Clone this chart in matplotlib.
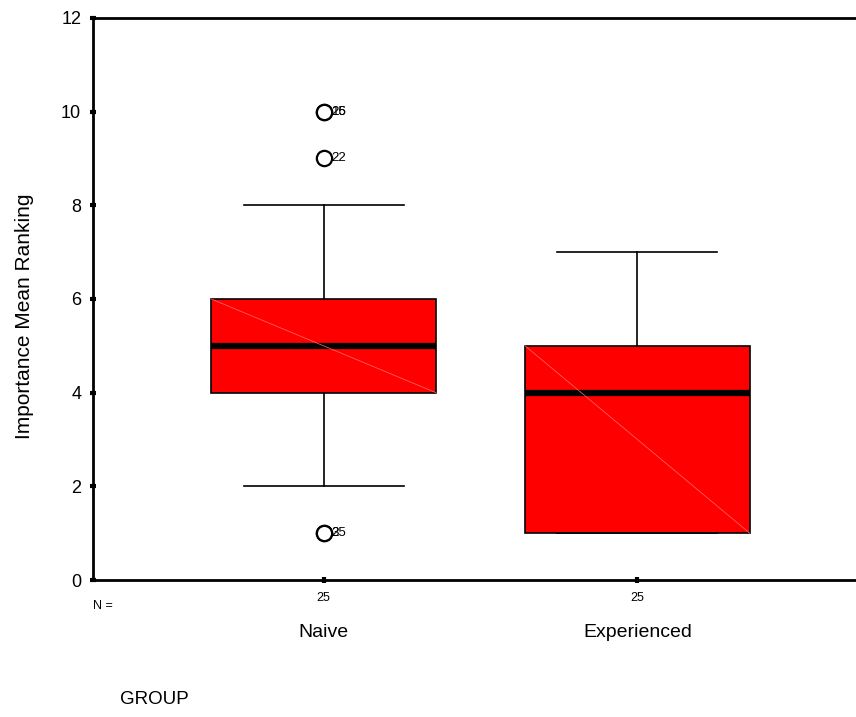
import matplotlib
matplotlib.use('Agg')
import matplotlib.pyplot as plt

groups = ['Naive', 'Experienced']
n_cases = [25, 25]
q1 = [4, 1]
med = [5, 4]
q3 = [6, 5]
whislo = [2, 1]
whishi = [8, 7]
outlier_vals = [[10, 10, 9, 1, 1], []]
outlier_ids = [['16', '25', '22', '25', '3'], []]

plt.rcParams['font.family'] = ['Liberation Sans', 'DejaVu Sans']

fig = plt.figure(figsize=(8.56, 7.17), dpi=100)
ax = fig.add_axes([0.1086, 0.191, 0.9, 0.784])

positions = [1, 2]
stats = []
for i, g in enumerate(groups):
    stats.append(dict(label=g, med=med[i], q1=q1[i], q3=q3[i],
                      whislo=whislo[i], whishi=whishi[i], fliers=outlier_vals[i]))

ax.bxp(stats, positions=positions, widths=0.716, patch_artist=True,
       showfliers=True,
       boxprops=dict(facecolor='#ff0000', edgecolor='black', linewidth=1.2),
       medianprops=dict(color='black', linewidth=4.5),
       whiskerprops=dict(color='black', linewidth=1.2),
       capprops=dict(color='black', linewidth=1.2),
       capwidths=0.51,
       flierprops=dict(marker='o', markersize=11, markerfacecolor='white',
                       markeredgecolor='black', markeredgewidth=1.6))

# faint diagonal across each box fill
for i, p in enumerate(positions):
    ax.plot([p - 0.358, p + 0.358], [q3[i], q1[i]], color='#ff7070',
            linewidth=0.5, zorder=2.5)

# case labels beside outliers (coincident cases print on top of each other)
for i, p in enumerate(positions):
    for v, lab in zip(outlier_vals[i], outlier_ids[i]):
        ax.text(p + 0.025, v, lab, fontsize=9.5, va='center', ha='left')

ax.set_xlim(0.265, 2.72)
ax.set_ylim(0, 12)
ax.set_yticks([0, 2, 4, 6, 8, 10, 12])
ax.set_xticks(positions)
ax.set_xticklabels([str(n) for n in n_cases], fontsize=9)
ax.tick_params(axis='both', direction='inout', length=5, width=3, pad=6)
ax.tick_params(axis='y', labelsize=13)
for s in ax.spines.values():
    s.set_linewidth(2)

ax.set_ylabel('Importance Mean Ranking', fontsize=15)
ax.yaxis.set_label_coords(-0.076, 0.47)

# group names under the N counts
for p, g in zip(positions, groups):
    ax.text(p, -1.12, g, ha='center', va='center', fontsize=14,
            clip_on=False)
ax.text(0.265, -0.55, 'N =', ha='left', va='center', fontsize=9,
        clip_on=False)
fig.text(0.14, 0.012, 'GROUP', ha='left', va='bottom', fontsize=13.5)

fig.savefig('out.png', dpi=100)
